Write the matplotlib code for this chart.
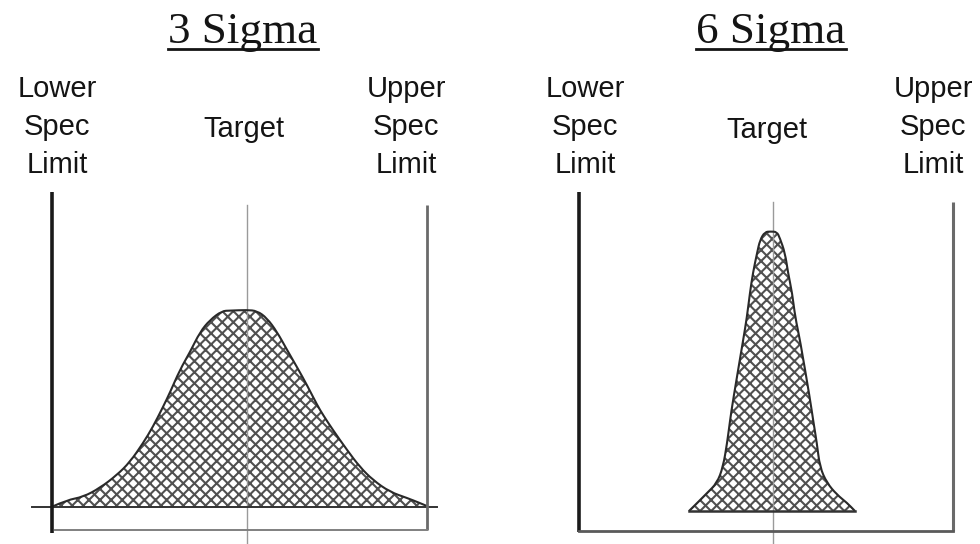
import matplotlib
matplotlib.use('Agg')
import matplotlib.pyplot as plt
from matplotlib.lines import Line2D
from matplotlib.path import Path
from matplotlib.patches import PathPatch

plt.rcParams['hatch.linewidth'] = 1.5

# ---------------- data ----------------
titles = ['3 Sigma', '6 Sigma']
lsl_label = ['Lower', 'Spec', 'Limit']
usl_label = ['Upper', 'Spec', 'Limit']
target_label = 'Target'

LSL, USL = 0.0, 100.0          # spec limits (percent of spec range)
target_3 = 52.0
target_6 = 51.9

# 3 sigma process curve (x in % of spec range, y = height)
three_x = [0.0, 4.0, 8.3, 12.8, 17.3, 20.8, 24.3, 26.9, 29.6, 31.5, 34.1, 36.8,
           39.5, 42.1, 45.3, 47.5, 52.0, 54.7, 57.3, 60.0, 62.7, 65.3, 68.0,
           70.7, 72.3, 74.9, 78.7, 82.1, 85.6, 90.1, 94.7, 98.1, 100.0]
three_y = [6.9, 8.9, 9.8, 12.5, 16.3, 20.2, 25.8, 30.6, 36.5, 40.9, 47.5, 52.8,
           58.8, 62.3, 65.0, 65.1, 65.3, 65.0, 62.9, 58.8, 53.4, 48.4, 43.0,
           37.1, 34.1, 29.7, 23.7, 18.7, 14.8, 11.3, 9.5, 8.0, 7.1]
three_base = 6.8

# 6 sigma process curve
six_x = [29.4, 31.6, 34.2, 36.9, 38.5, 39.6, 40.4, 41.2, 43.9, 44.9, 45.7, 46.5,
         47.6, 48.4, 49.7, 51.3, 52.9, 53.7, 55.1, 55.9, 57.0, 57.8, 59.1, 61.8,
         62.6, 63.6, 64.4, 66.3, 69.0, 71.7, 73.8]
six_y = [5.9, 8.3, 11.2, 14.2, 18.9, 26.0, 32.8, 38.8, 56.5, 63.3, 70.4, 76.3,
         82.2, 86.1, 88.5, 88.6, 88.5, 86.7, 82.2, 76.3, 70.4, 63.3, 56.5, 38.8,
         32.8, 26.0, 18.9, 14.2, 10.7, 8.3, 5.9]
six_base = 5.9

# ---------------- layout ----------------
W, H = 980, 544
fig = plt.figure(figsize=(W / 100, H / 100), dpi=100)
fig.patch.set_facecolor('white')

XLIM = (-10, 110)
YLIM = (-5, 105)


def make_axes(x0, y0, sx, sy):
    left = x0 + XLIM[0] * sx
    width = (XLIM[1] - XLIM[0]) * sx
    bottom_from_top = y0 - YLIM[0] * sy
    height = (YLIM[1] - YLIM[0]) * sy
    ax = fig.add_axes([left / W, (H - bottom_from_top) / H, width / W, height / H])
    ax.set_xlim(*XLIM)
    ax.set_ylim(*YLIM)
    ax.axis('off')
    return ax


def curve_path(xs, ys, base=None):
    """Smooth drawing path through the read points (quadratic segments)."""
    verts = [(xs[0], ys[0])]
    codes = [Path.MOVETO]
    for i in range(1, len(xs) - 1):
        verts.append((xs[i], ys[i]))
        verts.append(((xs[i] + xs[i + 1]) / 2, (ys[i] + ys[i + 1]) / 2))
        codes += [Path.CURVE3, Path.CURVE3]
    verts.append((xs[-1], ys[-1]))
    codes.append(Path.LINETO)
    if base is not None:
        verts += [(xs[-1], base), (xs[0], base), (xs[0], ys[0])]
        codes += [Path.LINETO, Path.LINETO, Path.CLOSEPOLY]
    return Path(verts, codes)


ax1 = make_axes(52, 530, 3.75, 3.37)
ax2 = make_axes(579, 531, 3.74, 3.38)

hatch_col = '#505050'
outline = '#2a2a2a'


def draw_curve(ax, xs, ys, base):
    ax.add_patch(PathPatch(curve_path(xs, ys, base), facecolor='white',
                           edgecolor=hatch_col, hatch='xxx', linewidth=0, zorder=1))
    ax.add_patch(PathPatch(curve_path(xs, ys), facecolor='none',
                           edgecolor=outline, linewidth=1.5, zorder=3))


# ----- left panel: 3 sigma -----
draw_curve(ax1, three_x, three_y, three_base)
ax1.plot([-5.3, 102.7], [three_base, three_base], color='#333333', lw=1.4, zorder=3)
ax1.plot([LSL, LSL], [-0.9, 100.3], color='#1a1a1a', lw=2.6,
         solid_capstyle='butt', zorder=4)
ax1.plot([USL, USL], [0, 96.4], color='#6a6a6a', lw=2.0,
         solid_capstyle='butt', zorder=4)
ax1.plot([LSL + 0.8, USL], [0, 0], color='#808080', lw=1.4, zorder=4)
ax1.plot([target_3, target_3], [-5, 96.4], color='#9a9a9a', lw=1.0, zorder=2)

# ----- right panel: 6 sigma -----
draw_curve(ax2, six_x, six_y, six_base)
ax2.plot([six_x[0], six_x[-1]], [six_base, six_base], color='#333333', lw=1.8, zorder=3)
ax2.plot([LSL, LSL], [-0.3, 100.3], color='#1a1a1a', lw=2.6,
         solid_capstyle='butt', zorder=4)
ax2.plot([USL, USL], [0, 97.3], color='#6a6a6a', lw=2.2,
         solid_capstyle='butt', zorder=4)
ax2.plot([LSL, USL], [0, 0], color='#5a5a5a', lw=2.0, zorder=4)
ax2.plot([target_6, target_6], [-5, 97.3], color='#9a9a9a', lw=1.0, zorder=2)

# ---------------- text ----------------
sans = ['Liberation Sans', 'DejaVu Sans']
serif = ['Liberation Serif', 'DejaVu Serif']
txt_col = '#141414'


def ftext(px, py, s, **kw):
    return fig.text(px / W, 1 - py / H, s, ha='center', va='baseline',
                    color=txt_col, **kw)


title_objs = [
    ftext(243, 43, titles[0], fontsize=32.5, family=serif),
    ftext(771, 43, titles[1], fontsize=32.5, family=serif),
]

label_size = 21
line_y = [97, 135, 173]
for cx, lab in [(57, lsl_label), (406, usl_label), (585, lsl_label), (933, usl_label)]:
    for yy, s in zip(line_y, lab):
        ftext(cx, yy, s, fontsize=label_size, family=sans)
ftext(243.5, 137, target_label, fontsize=label_size, family=sans)
ftext(767, 138, target_label, fontsize=label_size, family=sans)

# underline titles
fig.canvas.draw()
for t in title_objs:
    bb = t.get_window_extent()
    y_ul = (H - 48.5) / H
    fig.add_artist(Line2D([bb.x0 / W, bb.x1 / W], [y_ul, y_ul],
                          transform=fig.transFigure, color=txt_col, lw=2.0))

fig.savefig('out.png', dpi=100, facecolor='white')
